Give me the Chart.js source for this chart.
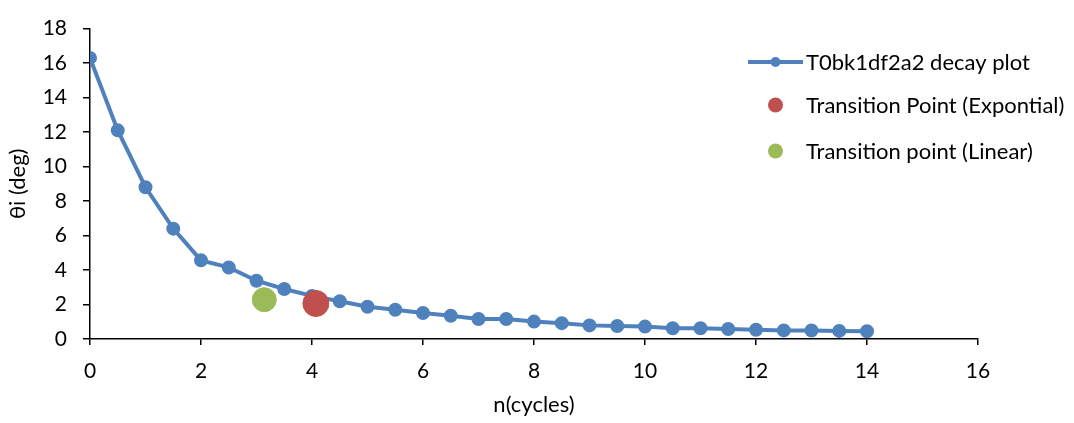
<!DOCTYPE html>
<html>
<head>
<meta charset="utf-8">
<script src="https://cdn.jsdelivr.net/npm/chart.js@4"></script>
<style>
  body { margin: 0; background: #fff; }
  #wrap { width: 1074px; height: 423px; }
</style>
</head>
<body>
<div id="wrap"><canvas id="decayChart" width="1074" height="423"></canvas></div>
<script>
// Messwerte der Abklingkurve
let cycles = [0, 0.5, 1, 1.5, 2, 2.5, 3, 3.5, 4, 4.5, 5, 5.5, 6, 6.5, 7, 7.5, 8, 8.5, 9, 9.5, 10, 10.5, 11, 11.5, 12, 12.5, 13, 13.5, 14];
let theta = [16.3, 12.1, 8.8, 6.4, 4.56, 4.15, 3.38, 2.9, 2.5, 2.19, 1.87, 1.7, 1.51, 1.35, 1.16, 1.16, 1.01, 0.92, 0.79, 0.75, 0.72, 0.62, 0.62, 0.58, 0.54, 0.5, 0.49, 0.47, 0.45];
// Übergangspunkte
let expPoint = [4.07, 2.06];
let linPoint = [3.14, 2.28];
// Achsenbeschriftungen
let xTicks = [0, 2, 4, 6, 8, 10, 12, 14, 16];
let yTicks = [0, 2, 4, 6, 8, 10, 12, 14, 16, 18];
let seriesNames = ['T0bk1df2a2 decay plot', 'Transition Point (Expontial)', 'Transition point (Linear)'];

let fontFamily = 'Lato, "Liberation Sans", sans-serif';
let blue = '#4F81BD', red = '#C0504D', green = '#9BBB59';

// Legende selbst zeichnen (liegt im Diagrammbereich)
let legendPlugin = {
  id: 'customLegend',
  afterDraw(chart) {
    let ctx = chart.ctx;
    let x0 = 748, lineW = 55, textX = 806;
    let rows = [62, 105, 151];
    ctx.save();
    ctx.font = '22px ' + fontFamily;
    ctx.textBaseline = 'middle';
    ctx.fillStyle = '#000';
    chart.data.datasets.forEach((ds, i) => {
      let y = rows[i];
      if (i === 0) {
        ctx.strokeStyle = blue;
        ctx.lineWidth = 4;
        ctx.beginPath();
        ctx.moveTo(x0, y);
        ctx.lineTo(x0 + lineW, y);
        ctx.stroke();
      }
      ctx.fillStyle = ds.backgroundColor;
      ctx.beginPath();
      ctx.arc(x0 + lineW / 2, y, i === 0 ? 5 : 7.5, 0, Math.PI * 2);
      ctx.fill();
      ctx.fillStyle = '#000';
      ctx.fillText(ds.label, textX, y + 1);
    });
    ctx.restore();
  }
};

let config = {
  type: 'scatter',
  data: {
    datasets: [
      { label: seriesNames[0], data: cycles.map((c, i) => ({ x: c, y: theta[i] })), showLine: true, borderColor: blue, backgroundColor: blue, borderWidth: 4, pointRadius: 5, pointHoverRadius: 5, order: 3 },
      { label: seriesNames[1], data: [{ x: expPoint[0], y: expPoint[1] }], backgroundColor: red, borderColor: red, pointRadius: 13, order: 1 },
      { label: seriesNames[2], data: [{ x: linPoint[0], y: linPoint[1] }], backgroundColor: green, borderColor: green, pointRadius: 12, order: 2 }
    ]
  },
  options: {
    responsive: false,
    animation: false,
    layout: { padding: { top: 18, right: 96, left: 0, bottom: 0 } },
    plugins: { legend: { display: false }, tooltip: { enabled: false } },
    scales: {
      x: {
        type: 'linear', min: 0, max: 16,
        afterBuildTicks: axis => { axis.ticks = xTicks.map(v => ({ value: v })); },
        afterFit: axis => { axis.height = 84; },
        border: { display: true, color: '#000', width: 1.5 },
        grid: { drawOnChartArea: false, drawTicks: true, tickLength: 6, color: '#000', lineWidth: 1.5 },
        ticks: { color: '#000', padding: 14, font: { family: fontFamily, size: 21 }, maxRotation: 0 },
        title: { display: true, text: 'n(cycles)', color: '#000', padding: { top: 5, bottom: 5 }, font: { family: fontFamily, size: 22 } }
      },
      y: {
        type: 'linear', min: 0, max: 18,
        afterBuildTicks: axis => { axis.ticks = yTicks.map(v => ({ value: v })); },
        afterFit: axis => { axis.width = 90; },
        border: { display: true, color: '#000', width: 1.5 },
        grid: { drawOnChartArea: false, drawTicks: true, tickLength: 7, color: '#000', lineWidth: 1.5 },
        ticks: { color: '#000', padding: 16, font: { family: fontFamily, size: 21 } },
        title: { display: true, text: 'θi (deg)', color: '#000', padding: { top: 5, bottom: 5 }, font: { family: fontFamily, size: 22 } }
      }
    }
  },
  plugins: [legendPlugin]
};

// Diagramm erstellen
let ctx = document.getElementById('decayChart').getContext('2d');
let decayChart = new Chart(ctx, config);
</script>
</body>
</html>
